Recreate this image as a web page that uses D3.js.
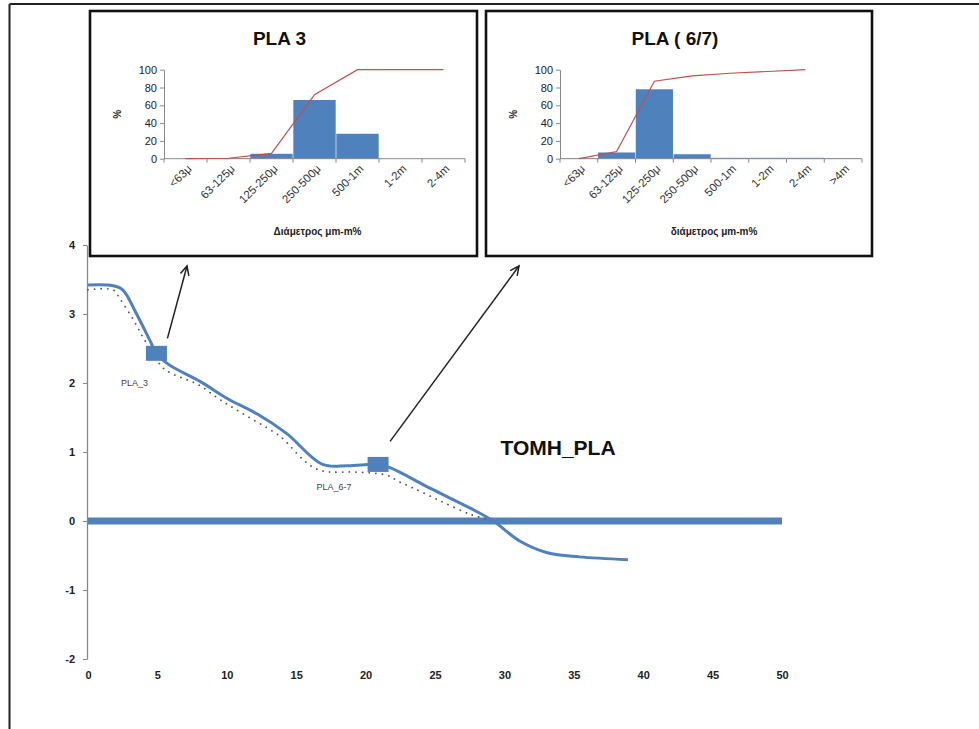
<!DOCTYPE html>
<html>
<head>
<meta charset="utf-8">
<script src="https://cdn.jsdelivr.net/npm/d3@7"></script>
<style>
  html, body { margin: 0; padding: 0; background: #fff; }
  svg { display: block; }
  text { font-family: "Liberation Sans", Arial, sans-serif; }
</style>
</head>
<body>
<svg id="chart" width="979" height="729"></svg>
<script>
// ---- Cross-section profile TOMH_PLA ----
const profileDist = [0, 1.8, 2.5, 3.5, 4.5, 4.93, 5.8, 8.1, 10, 12.2, 14.3, 16.9, 18.7, 20.9, 21.8, 24.6, 27.5, 29.2, 31.1, 33.1, 35.4, 38.9];
const profileElev = [3.42, 3.41, 3.35, 3.0, 2.6, 2.43, 2.27, 2.02, 1.78, 1.55, 1.27, 0.82, 0.8, 0.82, 0.77, 0.48, 0.19, 0, -0.29, -0.46, -0.52, -0.56];

// earlier survey (dotted)
const prevDist = [0, 1.8, 2.3, 3.2, 4.0, 4.7, 5.4, 6.1, 7.9, 9.5, 11.2, 13.3, 14.0, 15.6, 16.5, 17.4, 19.2, 21.6, 22.3, 23.4, 25.4, 27.5, 28.7];
const prevElev = [3.35, 3.35, 3.22, 2.94, 2.65, 2.42, 2.22, 2.13, 1.98, 1.76, 1.55, 1.3, 1.2, 0.87, 0.75, 0.71, 0.71, 0.66, 0.58, 0.48, 0.29, 0.1, 0.03];

// sampling stations
const sampleNames = ["PLA_3", "PLA_6-7"];
const sampleDist = [4.93, 20.9];
const sampleElev = [2.43, 0.82];

const seaLevelRange = [0, 50];
const xTicks = [0, 5, 10, 15, 20, 25, 30, 35, 40, 45, 50];
const yTicks = [-2, -1, 0, 1, 2, 3, 4];

// ---- Grain size distributions ----
const catsPla3 = ["<63μ", "63-125μ", "125-250μ", "250-500μ", "500-1m", "1-2m", "2-4m"];
const barsPla3 = [0, 0.5, 5.5, 66, 28, 0, 0];
const cumPla3 = [0, 0.5, 6, 72, 100, 100, 100];

const catsPla67 = ["<63μ", "63-125μ", "125-250μ", "250-500μ", "500-1m", "1-2m", "2-4m", ">4m"];
const barsPla67 = [0.5, 7, 78, 5, 1, 1, 1, 0.5];
const cumPla67 = [0, 8, 87, 93, 96, 98, 100];

const pctTicks = [0, 20, 40, 60, 80, 100];

const BLUE = "#4f81bd";
const svg = d3.select("#chart");
const intFmt = d => String(d);   // plain hyphen for negatives

// outer frame (top and left edges)
svg.append("line").attr("x1", 9.5).attr("y1", 4).attr("x2", 979).attr("y2", 4)
  .attr("stroke", "#222").attr("stroke-width", 2);
svg.append("line").attr("x1", 9.5).attr("y1", 4).attr("x2", 9.5).attr("y2", 729)
  .attr("stroke", "#222").attr("stroke-width", 2);

// ---- main profile chart ----
const x = d3.scaleLinear().domain([0, 50]).range([88, 782]);
const y = d3.scaleLinear().domain([-2, 4]).range([659, 245]);

const yAxis = svg.append("g").attr("transform", `translate(${x(0) - 1},0)`)
  .call(d3.axisLeft(y).tickValues(yTicks).tickSize(4).tickSizeOuter(0).tickPadding(8).tickFormat(intFmt));
yAxis.select(".domain").attr("stroke", "#888").attr("stroke-width", 1.3);
yAxis.selectAll(".tick line").attr("stroke", "#888");
yAxis.selectAll(".tick text").attr("font-size", 11).attr("font-weight", "bold").attr("fill", "#222");

const xAxis = svg.append("g").attr("transform", `translate(0,${y(-2) + 6})`)
  .call(d3.axisBottom(x).tickValues(xTicks).tickSize(0).tickPadding(6).tickFormat(intFmt));
xAxis.select(".domain").remove();
xAxis.selectAll(".tick text").attr("font-size", 11).attr("font-weight", "bold").attr("fill", "#222");

// zero reference line
svg.append("line")
  .attr("x1", x(seaLevelRange[0])).attr("x2", x(seaLevelRange[1]))
  .attr("y1", y(0)).attr("y2", y(0))
  .attr("stroke", BLUE).attr("stroke-width", 7);

// dotted earlier profile
const prevData = prevDist.map((d, i) => [d, prevElev[i]]);
svg.append("path").datum(prevData)
  .attr("d", d3.line().x(d => x(d[0])).y(d => y(d[1])).curve(d3.curveCatmullRom))
  .attr("fill", "none").attr("stroke", "#555").attr("stroke-width", 1.8)
  .attr("stroke-dasharray", "0.1 6.5").attr("stroke-linecap", "round");

// solid profile
const profData = profileDist.map((d, i) => [d, profileElev[i]]);
svg.append("path").datum(profData)
  .attr("d", d3.line().x(d => x(d[0])).y(d => y(d[1])).curve(d3.curveCatmullRom))
  .attr("fill", "none").attr("stroke", BLUE).attr("stroke-width", 3);

// station markers
svg.selectAll("rect.station").data(sampleDist).join("rect")
  .attr("class", "station")
  .attr("x", (d) => x(d) - 10.5).attr("y", (d, i) => y(sampleElev[i]) - 7.5)
  .attr("width", 21).attr("height", 15).attr("fill", BLUE);

// station labels
const labelOffsets = [[-22, 33], [-44, 26]];
svg.selectAll("text.station").data(sampleNames).join("text")
  .attr("class", "station")
  .attr("x", (d, i) => x(sampleDist[i]) + labelOffsets[i][0])
  .attr("y", (d, i) => y(sampleElev[i]) + labelOffsets[i][1])
  .attr("text-anchor", "middle").attr("font-size", 9).attr("fill", "#444")
  .text(d => d);

svg.append("text").attr("x", 558).attr("y", 455).attr("text-anchor", "middle")
  .attr("font-size", 21).attr("font-weight", "bold").attr("fill", "#111")
  .text("TOMH_PLA");

// arrows from stations to their insets
function arrow(x1, y1, x2, y2) {
  svg.append("line").attr("x1", x1).attr("y1", y1).attr("x2", x2).attr("y2", y2)
    .attr("stroke", "#222").attr("stroke-width", 1.5);
  const a = Math.atan2(y2 - y1, x2 - x1), L = 10, w = 0.45;
  const p1 = [x2 - L * Math.cos(a - w), y2 - L * Math.sin(a - w)];
  const p2 = [x2 - L * Math.cos(a + w), y2 - L * Math.sin(a + w)];
  svg.append("path").attr("d", `M${p1}L${x2},${y2}L${p2}`)
    .attr("fill", "none").attr("stroke", "#222").attr("stroke-width", 1.5);
}
arrow(x(sampleDist[0]) + 11, y(sampleElev[0]) - 15, 187, 266);
arrow(x(sampleDist[1]) + 12, y(sampleElev[1]) - 23, 519, 266);

// ---- inset histograms ----
function drawInset(box, plot, title, xTitle, cats, bars, cum) {
  svg.append("rect").attr("x", box[0]).attr("y", box[1])
    .attr("width", box[2] - box[0]).attr("height", box[3] - box[1])
    .attr("fill", "#fff").attr("stroke", "#111").attr("stroke-width", 2.6);

  const bx = d3.scaleBand().domain(cats).range([plot[0], plot[1]]).paddingInner(0.015).paddingOuter(0.0075);
  const by = d3.scaleLinear().domain([0, 100]).range([plot[2], plot[3]]);
  const g = svg.append("g");

  g.selectAll("rect").data(bars).join("rect")
    .attr("x", (d, i) => bx(cats[i])).attr("width", bx.bandwidth())
    .attr("y", d => by(d)).attr("height", d => by(0) - by(d))
    .attr("fill", BLUE);

  const ya = g.append("g").attr("transform", `translate(${plot[0]},0)`)
    .call(d3.axisLeft(by).tickValues(pctTicks).tickSize(4).tickSizeOuter(0).tickPadding(3));
  ya.select(".domain").attr("stroke", "#888");
  ya.selectAll(".tick line").attr("stroke", "#888");
  ya.selectAll(".tick text").attr("font-size", 11).attr("fill", "#222");

  const xa = g.append("g").attr("transform", `translate(0,${by(0)})`);
  xa.append("line").attr("x1", plot[0]).attr("x2", plot[1]).attr("stroke", "#888");
  const step = (plot[1] - plot[0]) / cats.length;
  xa.selectAll("line.tk").data(d3.range(cats.length + 1)).join("line")
    .attr("class", "tk")
    .attr("x1", i => plot[0] + i * step).attr("x2", i => plot[0] + i * step)
    .attr("y1", 0).attr("y2", 4).attr("stroke", "#888");
  xa.selectAll("text").data(cats).join("text")
    .attr("transform", d => `translate(${bx(d) + bx.bandwidth() / 2 + 4},8) rotate(-45)`)
    .attr("text-anchor", "end").attr("dy", "0.35em")
    .attr("font-size", 11.5).attr("fill", "#333").text(d => d);

  g.append("path").datum(cum)
    .attr("d", d3.line().x((d, i) => bx(cats[i]) + bx.bandwidth() / 2).y(d => by(d)))
    .attr("fill", "none").attr("stroke", "#c0504d").attr("stroke-width", 1.2);

  svg.append("text").attr("x", (box[0] + box[2]) / 2 - 4).attr("y", 45)
    .attr("text-anchor", "middle").attr("font-size", 19).attr("font-weight", "bold")
    .attr("fill", "#111").text(title);

  svg.append("text").attr("transform", `translate(${box[0] + 27},${(plot[2] + plot[3]) / 2}) rotate(-90)`)
    .attr("text-anchor", "middle").attr("dy", "0.35em")
    .attr("font-size", 10).attr("font-weight", "bold").attr("fill", "#222").text("%");

  svg.append("text").attr("x", (plot[0] + plot[1]) / 2 + 3).attr("y", 235)
    .attr("text-anchor", "middle").attr("font-size", 10).attr("font-weight", "bold")
    .attr("fill", "#222").text(xTitle);
}

drawInset([90, 11, 477, 256], [164, 465, 158.7, 69.7], "PLA 3", "Διάμετρος μm-m%", catsPla3, barsPla3, cumPla3);
drawInset([486, 11, 872, 256], [560, 862, 158.7, 69.7], "PLA ( 6/7)", "διάμετρος μm-m%", catsPla67, barsPla67, cumPla67);
</script>
</body>
</html>
